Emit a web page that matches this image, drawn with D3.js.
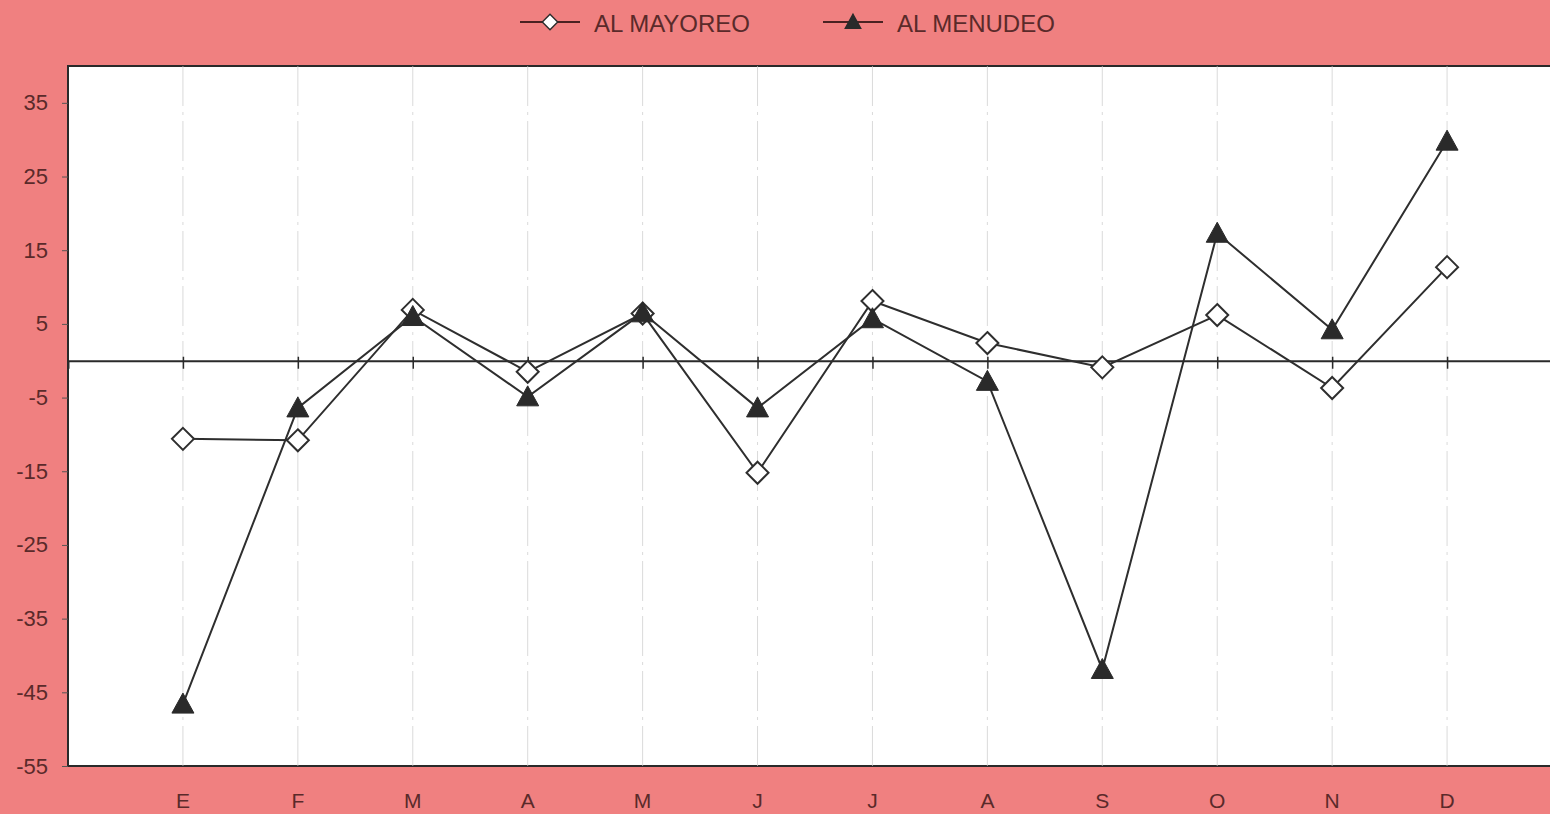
<!DOCTYPE html>
<html><head><meta charset="utf-8">
<script src="https://cdn.jsdelivr.net/npm/d3@7"></script>
<style>html,body{margin:0;padding:0;background:#f08080;overflow:hidden}</style>
</head><body>
<svg id="c" width="1550" height="814"></svg>
<script>
const months = ["E","F","M","A","M","J","J","A","S","O","N","D"];
const mayoreo = [-10.6, -10.8, 6.9, -1.5, 6.4, -15.2, 8.1, 2.4, -0.9, 6.2, -3.7, 12.7];
const menudeo = [-46.6, -6.4, 6.0, -4.9, 6.5, -6.4, 5.7, -2.8, -41.9, 17.3, 4.2, 29.8];
const yTicks = [35, 25, 15, 5, -5, -15, -25, -35, -45, -55];
const seriesNames = ["AL MAYOREO", "AL MENUDEO"];

const svg = d3.select("#c");
const W = 1550, H = 814;
const pLeft = 68, pTop = 66, pBottom = 766, pRight = 1562;
svg.append("rect").attr("width", W).attr("height", H).attr("fill", "#f08080");

const x = d3.scaleLinear().domain([0, 13]).range([pLeft, pRight]);
const y = d3.scaleLinear().domain([-55, 40]).range([pBottom, pTop]);
const textColor = "#5a2a2a";
const font = "Liberation Sans, Arial, sans-serif";

// plot area
svg.append("rect").attr("x", pLeft).attr("y", pTop).attr("width", pRight - pLeft).attr("height", pBottom - pTop)
  .attr("fill", "#ffffff").attr("stroke", "#2a2a2a").attr("stroke-width", 2);

// faint vertical gridlines
svg.append("g").selectAll("line").data(months).join("line")
  .attr("x1", (d, i) => x(i + 1)).attr("x2", (d, i) => x(i + 1))
  .attr("y1", pTop).attr("y2", pBottom)
  .attr("stroke", "#cccccc").attr("stroke-width", 1).attr("stroke-dasharray", "40,6,3,6").attr("opacity", 0.7);

// y axis
const yAxis = d3.axisLeft(y).tickValues(yTicks).tickSize(6).tickPadding(14).tickFormat(d => String(d));
const ya = svg.append("g").attr("transform", `translate(${pLeft},0)`).call(yAxis);
ya.select(".domain").remove();
ya.selectAll(".tick line").attr("stroke", "#555");
ya.selectAll(".tick text").attr("font-family", font).attr("font-size", 22).attr("fill", textColor);

// zero line with ticks
const xAxis = d3.axisBottom(x).tickValues(d3.range(1, 13)).tickSize(8).tickFormat("");
const xa = svg.append("g").attr("transform", `translate(0,${y(0)})`).call(xAxis);
xa.select(".domain").attr("stroke", "#2a2a2a").attr("stroke-width", 2);
xa.selectAll(".tick line").attr("stroke", "#2a2a2a").attr("stroke-width", 1.5).attr("y1", -4);

// x labels
svg.append("g").selectAll("text").data(months).join("text")
  .attr("x", (d, i) => x(i + 1)).attr("y", 808)
  .attr("text-anchor", "middle").attr("font-family", font).attr("font-size", 21).attr("fill", textColor)
  .text(d => d);

const line = d3.line().x((d, i) => x(i + 1)).y(d => y(d));
const diamond = "M0,-11L11,0L0,11L-11,0Z";
const tri = "M0,-11L11,9L-11,9Z";

svg.append("path").datum(mayoreo).attr("d", line).attr("fill", "none").attr("stroke", "#2e2e2e").attr("stroke-width", 2);
svg.append("path").datum(menudeo).attr("d", line).attr("fill", "none").attr("stroke", "#2e2e2e").attr("stroke-width", 2);

svg.append("g").selectAll("path").data(mayoreo).join("path")
  .attr("transform", (d, i) => `translate(${x(i + 1)},${y(d)})`).attr("d", diamond)
  .attr("fill", "#fff").attr("stroke", "#2e2e2e").attr("stroke-width", 2);
svg.append("g").selectAll("path").data(menudeo).join("path")
  .attr("transform", (d, i) => `translate(${x(i + 1)},${y(d)})`).attr("d", tri)
  .attr("fill", "#2a2a2a").attr("stroke", "#2a2a2a").attr("stroke-width", 1);

// legend
const legend = [{name: seriesNames[0], x1: 520, sym: diamond, fill: "#fff"}, {name: seriesNames[1], x1: 823, sym: tri, fill: "#2a2a2a"}];
const lg = svg.append("g").selectAll("g").data(legend).join("g").attr("transform", d => `translate(${d.x1},22)`);
lg.append("line").attr("x1", 0).attr("x2", 60).attr("y1", 0).attr("y2", 0).attr("stroke", "#4a2222").attr("stroke-width", 2);
lg.append("path").attr("d", d => d.sym).attr("transform", "translate(30,0) scale(0.7)")
  .attr("fill", d => d.fill).attr("stroke", "#2a2a2a").attr("stroke-width", 2);
lg.append("text").attr("x", 74).attr("y", 10).attr("font-family", font).attr("font-size", 24).attr("fill", textColor).text(d => d.name);
</script>
</body></html>
